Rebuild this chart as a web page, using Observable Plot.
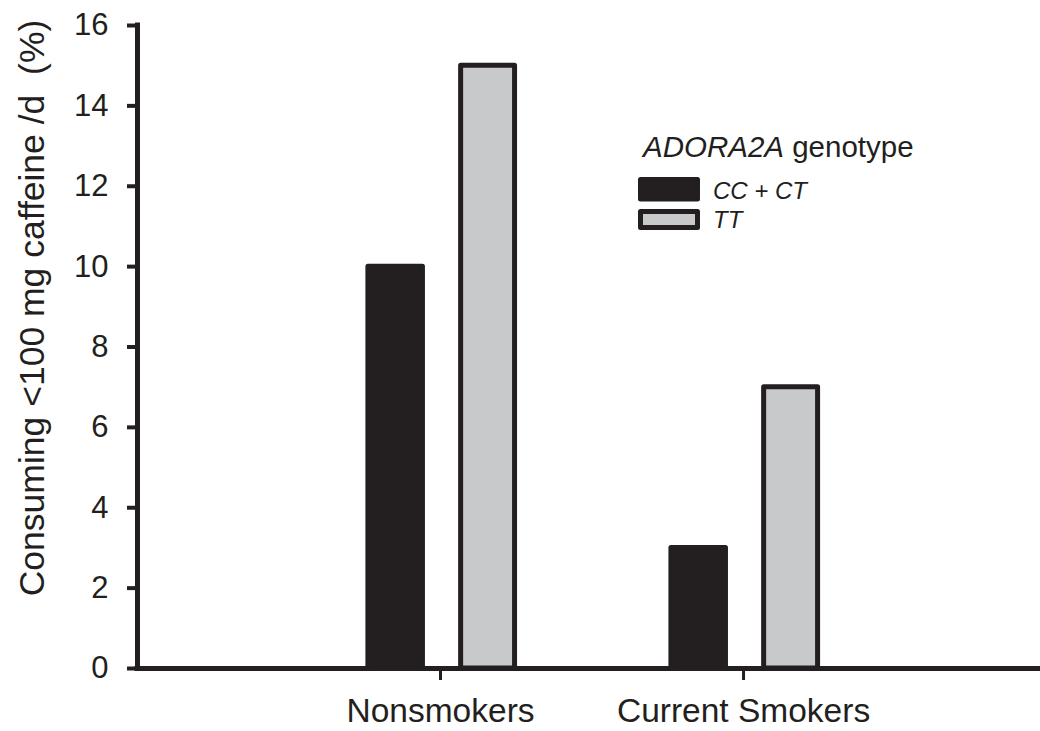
<!DOCTYPE html>
<html>
<head>
<meta charset="utf-8">
<script src="https://cdn.jsdelivr.net/npm/d3@7"></script>
<script src="https://cdn.jsdelivr.net/npm/@observablehq/plot@0.6"></script>
<style>
  html, body { margin: 0; padding: 0; background: #fff; }
  #wrap { position: relative; width: 1040px; height: 731px; }
  #legend { position: absolute; left: 0; top: 0; pointer-events: none; }
</style>
</head>
<body>
<div id="wrap"></div>
<script>
// ---- data ----
const groups = ["Nonsmokers", "Current Smokers"];
const genotypes = ["CC + CT", "TT"];
const valuesCCCT = [10, 3];
const valuesTT = [15, 7];
const yTicks = [0, 2, 4, 6, 8, 10, 12, 14, 16];
const yLabel = ["Consuming <100 mg caffeine /d  (%)"];
const legendTitleItalic = "ADORA2A";
const legendTitleRest = " genotype";

const ink = "#231f20";
const colors = [ink, "#c8c9cb"];

const table = [];
groups.forEach((g, i) => {
  table.push({group: g, gi: i + 1, genotype: genotypes[0], value: valuesCCCT[i]});
  table.push({group: g, gi: i + 1, genotype: genotypes[1], value: valuesTT[i]});
});

// bar placement within each group (in x-scale units, relative to group center)
const barOffsets = {[genotypes[0]]: [-0.238, -0.058], [genotypes[1]]: [0.068, 0.246]};

const chart = Plot.plot({
  width: 1040,
  height: 731,
  marginLeft: 137,
  marginRight: 0,
  marginTop: 25,
  marginBottom: 63,
  style: {fontFamily: "'Liberation Sans', Arial, Helvetica, sans-serif", color: ink, background: "#fff"},
  x: {domain: [0, 2.98], axis: null},
  y: {domain: [0, 16], axis: null},
  color: {domain: genotypes, range: colors},
  marks: [
    Plot.rectY(table, {
      x1: d => d.gi + barOffsets[d.genotype][0],
      x2: d => d.gi + barOffsets[d.genotype][1],
      y1: 0,
      y2: "value",
      fill: "genotype",
      stroke: ink,
      strokeWidth: 5,
      strokeLinejoin: "round"
    }),
    Plot.axisY({ticks: yTicks, tickSize: 10, tickPadding: 19, fontSize: 31, strokeWidth: 4, label: null, fill: ink, stroke: ink}),
    Plot.axisX({ticks: groups.map((g, i) => i + 1), tickFormat: d => groups[d - 1], tickSize: 12, tickPadding: 18, fontSize: 33.5, strokeWidth: 3, label: null, fill: ink, stroke: ink}),
    Plot.ruleX([0], {y1: 0, y2: 16, stroke: ink, strokeWidth: 5, strokeLinecap: "square"}),
    Plot.ruleY([0], {stroke: ink, strokeWidth: 5, strokeLinecap: "square"}),
    Plot.text(yLabel, {text: d => d, frameAnchor: "left", textAnchor: "middle", rotate: -90, dx: -105, dy: -39, fontSize: 35.5, fill: ink})
  ]
});

const wrap = document.getElementById("wrap");
wrap.appendChild(chart);

// ---- legend (overlay) ----
const lg = d3.select(wrap).append("svg")
  .attr("id", "legend")
  .attr("width", 1040).attr("height", 731)
  .style("font-family", "'Liberation Sans', Arial, Helvetica, sans-serif");

const title = lg.append("text").attr("x", 643).attr("y", 157).attr("font-size", 29.5).attr("fill", ink);
title.append("tspan").attr("font-style", "italic").text(legendTitleItalic);
title.append("tspan").text(legendTitleRest);

const items = [
  {label: genotypes[0], fill: colors[0], y: 179.5, h: 19.5, textY: 199},
  {label: genotypes[1], fill: colors[1], y: 211.5, h: 16, textY: 228}
];
items.forEach(it => {
  lg.append("rect")
    .attr("x", 640.5).attr("y", it.y).attr("width", 57).attr("height", it.h)
    .attr("fill", it.fill).attr("stroke", ink).attr("stroke-width", 5)
    .attr("stroke-linejoin", "round");
  lg.append("text")
    .attr("x", 713).attr("y", it.textY)
    .attr("font-size", 24).attr("font-style", "italic").attr("fill", ink)
    .text(it.label);
});
</script>
</body>
</html>
